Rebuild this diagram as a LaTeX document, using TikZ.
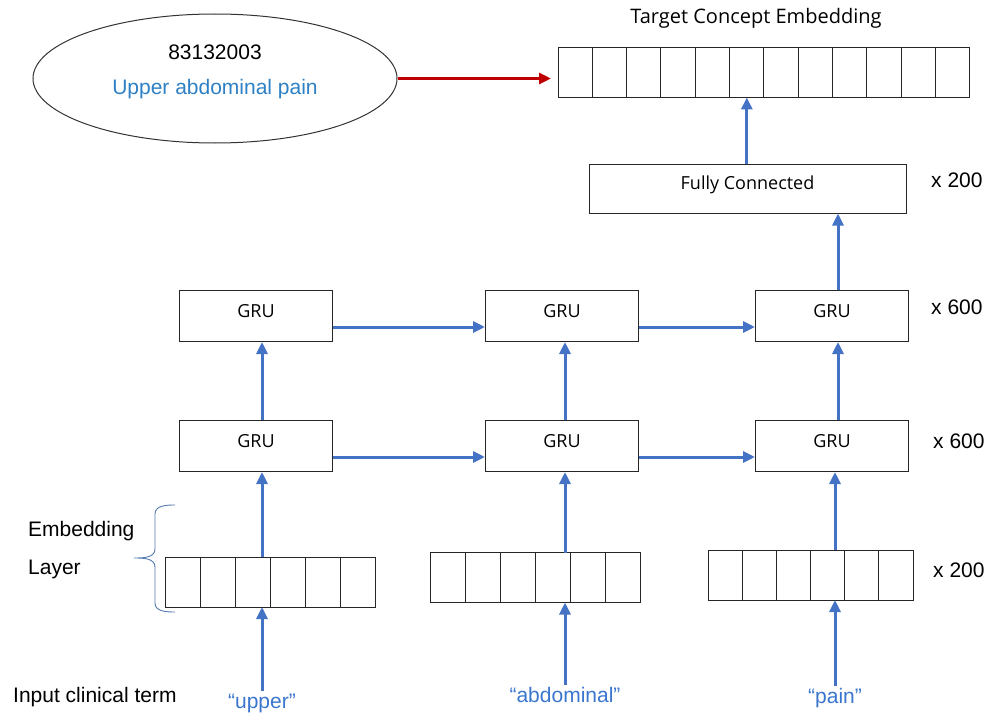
\documentclass[tikz,border=0pt]{standalone}
\usepackage{fontspec}
\setmainfont{Liberation Sans}
\newfontfamily\boxfont{Open Sans}
\usepackage{tikz}
\usetikzlibrary{shapes.geometric,arrows.meta,positioning}
\definecolor{arrowblue}{RGB}{68,114,196}
\definecolor{termblue}{RGB}{46,128,196}
\definecolor{wordblue}{RGB}{58,118,206}
\definecolor{arrowred}{RGB}{192,0,0}
\definecolor{bracecol}{RGB}{84,122,176}
\tikzstyle{gru} = [rectangle, draw=black!85, line width=1pt, minimum width=153pt, minimum height=51pt, inner sep=0pt, text height=13pt, text depth=11pt, font=\boxfont\fontsize{18}{20}\selectfont]
\tikzstyle{cell} = [rectangle, draw=black!85, line width=1pt, minimum height=50pt, inner sep=0pt, outer sep=0pt]
\tikzstyle{textonly} = [draw=none, fill=none, inner sep=2pt, font=\fontsize{21}{25}\selectfont]
\tikzstyle{word} = [textonly, text=wordblue, anchor=base]
\tikzstyle{tedge}  = [draw, line width=3pt, arrowblue, -{Triangle[length=12pt,width=11pt]}]
\tikzstyle{redge}  = [draw, line width=3pt, arrowred, -{Triangle[length=12pt,width=11pt]}]

\begin{document}
\begin{tikzpicture}[x=1pt, y=-1pt]
\useasboundingbox (0,0) rectangle (989,717);

% concept ================================
\node[ellipse, draw=black!80, line width=1pt, minimum width=364pt, minimum height=129pt, inner sep=0pt] (concept) at (215,78.5) {};
\node[textonly] (code) at (215,52) {83132003};
\node[textonly, text=termblue] (name) at (215,89) {Upper abdominal pain};

% target embedding
\node[textonly, font=\boxfont\fontsize{20}{24}\selectfont] (title) at (756,18) {Target Concept Embedding};
\foreach \i in {1,...,12}
  \node[cell, minimum width=34.33pt] (tc\i) at ({558+34.33*(\i-0.5)},72.5) {};

% layers =================================
\node[gru, minimum width=317pt, minimum height=49pt] (fc) at (747.5,188.5) {Fully Connected};
\node[gru] (g11) at (256,446) {GRU};
\node[gru, right=152pt of g11] (g12) {GRU};
\node[gru, right=116pt of g12] (g13) {GRU};
\node[gru, above=78pt of g11] (g21) {GRU};
\node[gru, above=78pt of g12] (g22) {GRU};
\node[gru, above=78pt of g13] (g23) {GRU};

% input embeddings
\foreach \i in {1,...,6} {
  \node[cell, minimum width=35pt] (ea\i) at ({165+35*(\i-0.5)},582) {};
  \node[cell, minimum width=35pt] (eb\i) at ({430+35*(\i-0.5)},577.5) {};
  \node[cell, minimum width=34.17pt] (ec\i) at ({708+34.17*(\i-0.5)},575) {};
}

% labels
\node[textonly, anchor=west] (embl) at (26,531) {Embedding};
\node[textonly, anchor=west] (layl) at (26,569) {Layer};
\node[textonly, anchor=west] (inl) at (11,697) {Input clinical term};
\node[textonly, anchor=west] (n1) at (929,180) {x 200};
\node[textonly, anchor=west] (n2) at (929,307) {x 600};
\node[textonly, anchor=west] (n3) at (931,441) {x 600};
\node[textonly, anchor=west] (n4) at (931,570) {x 200};
\node[word] (wa) at (262,708) {``upper''};
\node[word] (wb) at (565,702) {``abdominal''};
\node[word] (wc) at (835,703) {``pain''};

% brace
\draw[bracecol, line width=0.9pt] (175,505) to[out=180,in=90] (155,514) -- (155,549)
  to[out=-90,in=0] (134,558) to[out=0,in=90] (155,567) -- (155,603) to[out=-90,in=180] (175,612);

% edges
\path[redge] (concept.east) -- ([xshift=-7pt]concept.east -| tc1.west);
\path[tedge] (fc.north -| tc6) -- (tc6.south);
\path[tedge] (g23.north -| 838,0) -- (fc.south -| 838,0);
\path[tedge] (g11.north -| wa) -- (g21.south -| wa);
\path[tedge] (g12.north -| wb) -- (g22.south -| wb);
\path[tedge] (g13.north -| 838,0) -- (g23.south -| 838,0);
\path[tedge] ([yshift=-11pt]g21.east) -- ([yshift=-11pt]g22.west);
\path[tedge] ([yshift=-11pt]g22.east) -- ([yshift=-11pt]g23.west);
\path[tedge] ([yshift=-11pt]g11.east) -- ([yshift=-11pt]g12.west);
\path[tedge] ([yshift=-11pt]g12.east) -- ([yshift=-11pt]g13.west);
\path[tedge] (ea3.north -| wa) -- (g11.south -| wa);
\path[tedge] (eb4.north -| wb) -- (g12.south -| wb);
\path[tedge] (ec4.north -| wc) -- (g13.south -| wc);
\path[tedge] (wa.north) -- (ea3.south -| wa);
\path[tedge] (wb.north) -- (eb4.south -| wb);
\path[tedge] (wc.north) -- (ec4.south -| wc);

\end{tikzpicture}
\end{document}
